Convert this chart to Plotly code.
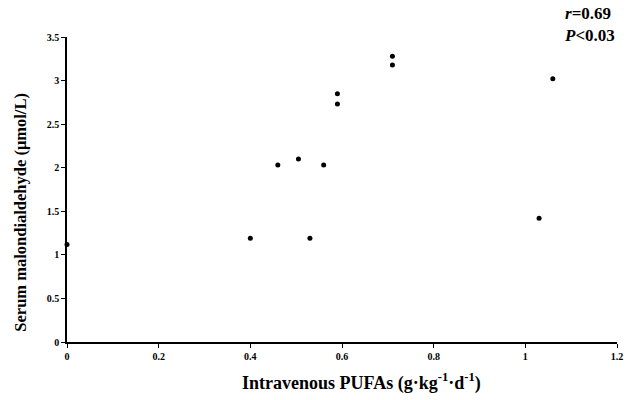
import plotly.graph_objects as go

pufa = [0.0, 0.40, 0.46, 0.505, 0.53, 0.56, 0.59, 0.59, 0.71, 0.71, 1.03, 1.06]
mda = [1.12, 1.19, 2.03, 2.10, 1.19, 2.03, 2.85, 2.73, 3.28, 3.18, 1.42, 3.02]
xticks = [0, 0.2, 0.4, 0.6, 0.8, 1, 1.2]
xlabels = ["0", "0.2", "0.4", "0.6", "0.8", "1", "1.2"]
yticks = [0, 0.5, 1, 1.5, 2, 2.5, 3, 3.5]
ylabels = ["0", "0.5", "1", "1.5", "2", "2.5", "3", "3.5"]

font = "Liberation Serif"
fig = go.Figure(go.Scatter(x=pufa, y=mda, mode="markers",
                           marker=dict(color="black", size=5), cliponaxis=False))
fig.update_layout(
    width=632, height=400, margin=dict(l=67, r=9, t=37, b=58),
    paper_bgcolor="white", plot_bgcolor="white", showlegend=False,
    font=dict(family=font, color="black"),
)
fig.update_xaxes(range=[0, 1.2], tickvals=xticks, ticktext=xlabels,
                 showgrid=False, zeroline=False, showline=True, linecolor="black",
                 linewidth=1.5, ticks="outside", ticklen=4, tickcolor="black",
                 tickfont=dict(family=font, size=10, weight="bold"))
fig.update_yaxes(range=[0, 3.5], tickvals=yticks, ticktext=ylabels,
                 showgrid=False, zeroline=False, showline=True, linecolor="black",
                 linewidth=1.5, ticks="outside", ticklen=4, tickcolor="black",
                 tickfont=dict(family=font, size=10, weight="bold"))
# axis titles (placed as in the reference, slightly off-centre)
fig.add_annotation(x=0.535, xref="paper", y=-0.13, yref="paper", yanchor="middle",
                   showarrow=False,
                   text="<b>Intravenous PUFAs (g·kg<sup>-1</sup>·d<sup>-1</sup>)</b>",
                   font=dict(family=font, size=18, color="black"))
fig.add_annotation(x=-0.085, xref="paper", y=0.425, yref="paper", xanchor="center",
                   textangle=-90, showarrow=False,
                   text="<b>Serum malondialdehyde (μmol/L)</b>",
                   font=dict(family=font, size=16.5, color="black"))
fig.add_annotation(x=1.0, xref="paper", y=1.115, yref="paper", xanchor="right", yanchor="top",
                   showarrow=False, align="left",
                   text="<b><i>r</i>=0.69<br><i>P</i><0.03</b>",
                   font=dict(family=font, size=17, color="black"))
fig.write_html("out.html")
